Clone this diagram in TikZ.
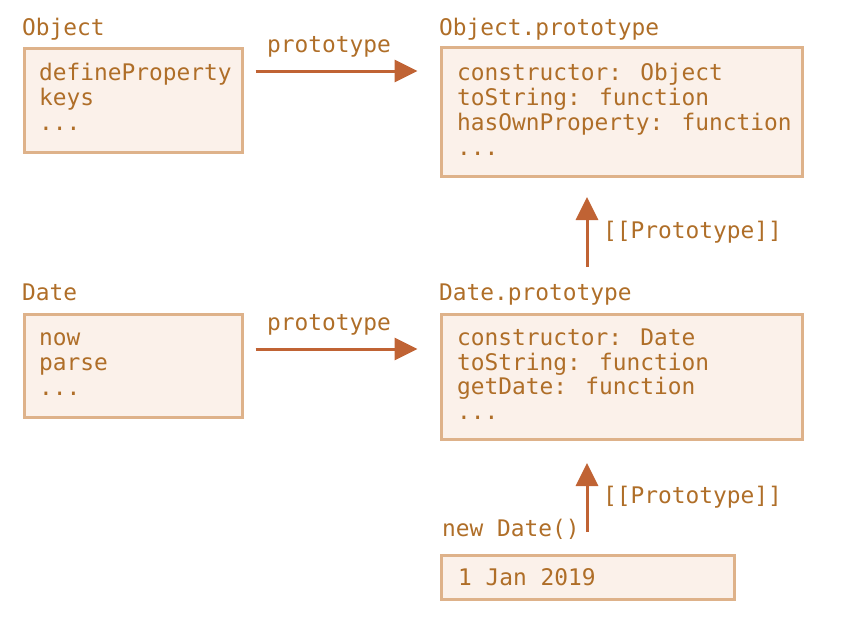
\documentclass[tikz,border=0pt]{standalone}
\usepackage{fontspec}
\newfontfamily\codefont{DejaVu Sans Mono}
\usetikzlibrary{arrows.meta}
\definecolor{txt}{RGB}{175,110,40}
\definecolor{boxfill}{RGB}{251,241,234}
\definecolor{boxline}{RGB}{222,178,138}
\definecolor{arrc}{RGB}{192,99,52}
\begin{document}
\begin{tikzpicture}[x=1pt,y=-1pt,
  every node/.style={inner sep=0pt, outer sep=0pt},
  lbl/.style={anchor=base west, text=txt, font=\codefont\fontsize{22.85}{25}\selectfont},
  box/.style={draw=boxline, fill=boxfill, line width=3pt, anchor=north west, rectangle},
  arr/.style={draw=arrc, line width=3pt, -{Triangle[length=23pt,width=22pt]}}]
\useasboundingbox (0,0) rectangle (850,629);
% boxes
\node[box, minimum width=218pt, minimum height=104pt] (objbox) at (24.5,48.5) {};
\node[box, minimum width=361pt, minimum height=129pt] (objpbox) at (441.5,47.5) {};
\node[box, minimum width=218pt, minimum height=103pt] (datebox) at (24.5,314.5) {};
\node[box, minimum width=361pt, minimum height=125pt] (datepbox) at (441.5,314.5) {};
\node[box, minimum width=293pt, minimum height=44pt] (inst) at (441.5,555.5) {};
% titles
\node[lbl] (tobj) at (22,35) {Object};
\node[lbl] (tobjp) at (439,35) {Object.prototype};
\node[lbl] (tdate) at (22,300) {Date};
\node[lbl] (tdatep) at (439,300) {Date.prototype};
\node[lbl] (tnew) at (442,536) {new Date()};
% contents
\node[lbl] (o1) at (39,80) {defineProperty};
\node[lbl] (o2) at (39,105) {keys};
\node[lbl] (o3) at (39,130) {...};
\node[lbl] (p1) at (457,80) {constructor: Object};
\node[lbl] (p2) at (457,105) {toString: function};
\node[lbl] (p3) at (457,130) {hasOwnProperty: function};
\node[lbl] (p4) at (457,155) {...};
\node[lbl] (d1) at (39,345) {now};
\node[lbl] (d2) at (39,370) {parse};
\node[lbl] (d3) at (39,395) {...};
\node[lbl] (q1) at (457,345) {constructor: Date};
\node[lbl] (q2) at (457,370) {toString: function};
\node[lbl] (q3) at (457,394) {getDate: function};
\node[lbl] (q4) at (457,419) {...};
\node[lbl] (i1) at (458,585) {1 Jan 2019};
% arrow labels
\node[lbl] (l1) at (267,52) {prototype};
\node[lbl] (l2) at (267,330) {prototype};
\node[lbl] (l3) at (603,238) {[[Prototype]]};
\node[lbl] (l4) at (603,503) {[[Prototype]]};
% arrows
\coordinate (a1s) at ([xshift=13pt]objbox.east |- 0,71);
\coordinate (a1e) at ([xshift=-24pt]objpbox.west |- 0,71);
\draw[arr] (a1s) -- (a1e);
\coordinate (a2s) at ([xshift=13pt]datebox.east |- 0,349);
\coordinate (a2e) at ([xshift=-24pt]datepbox.west |- 0,349);
\draw[arr] (a2s) -- (a2e);
\coordinate (a3s) at (587,267);
\coordinate (a3e) at (587,197);
\draw[arr] (a3s) -- (a3e);
\coordinate (a4s) at (587,532);
\coordinate (a4e) at (587,463);
\draw[arr] (a4s) -- (a4e);
\end{tikzpicture}
\end{document}
